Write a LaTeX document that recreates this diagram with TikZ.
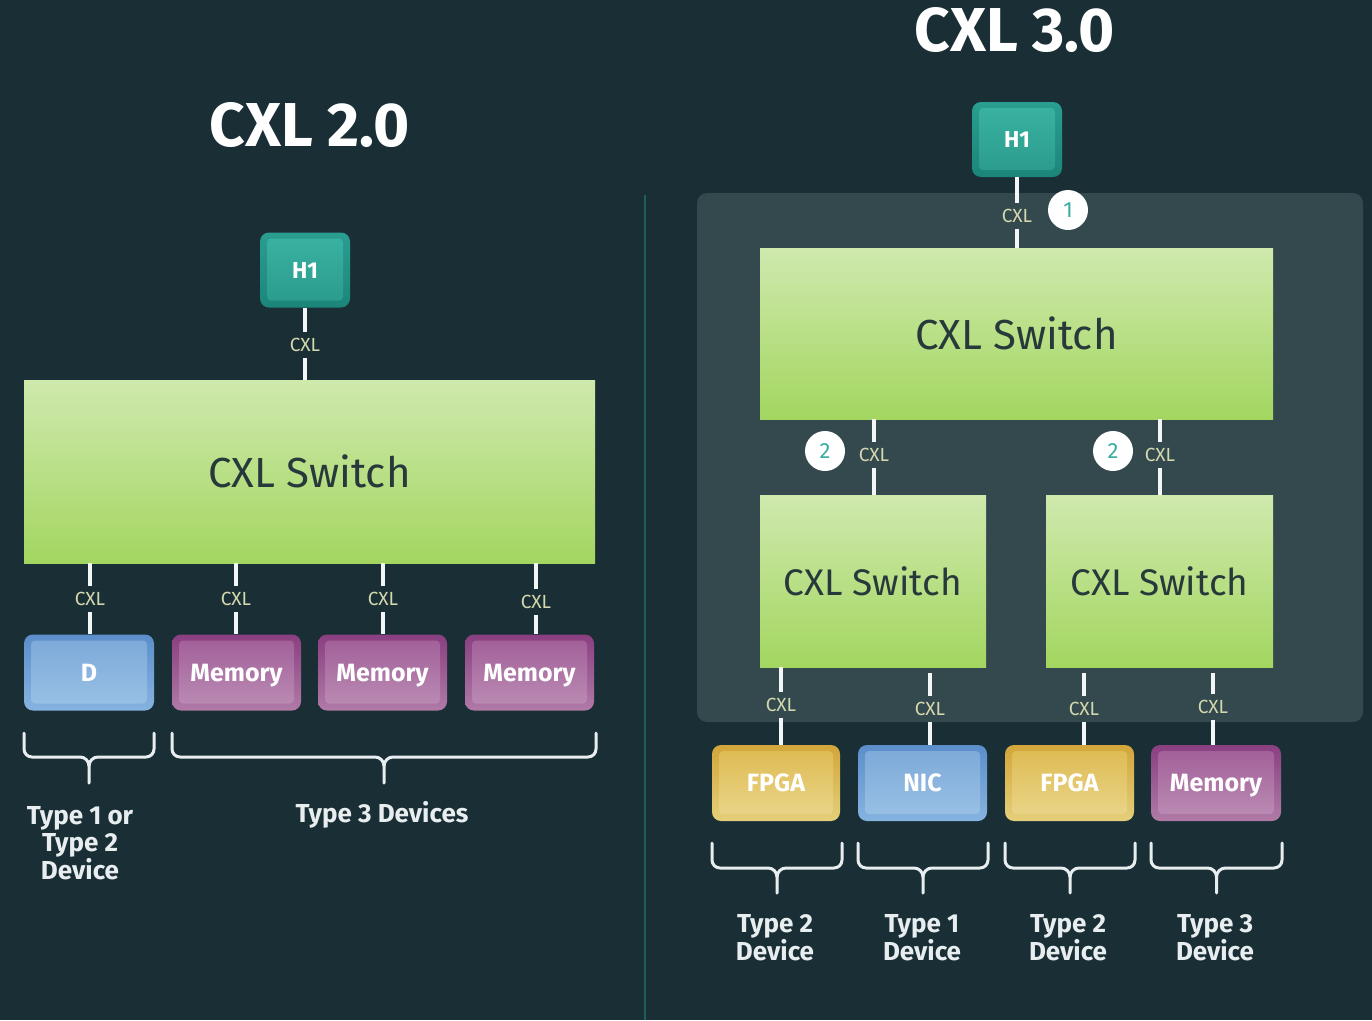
\documentclass[tikz,border=0pt]{standalone}
\usepackage{fontspec}
\setmainfont{Fira Sans}
\usetikzlibrary{calc}
\definecolor{bgc}{HTML}{1A2F35}
\definecolor{panelc}{HTML}{34494E}
\definecolor{divc}{HTML}{1E6059}
\definecolor{linec}{HTML}{F2F6F6}
\definecolor{cxlc}{HTML}{D4D8AE}
\definecolor{swtxt}{HTML}{28393B}
\definecolor{swtop}{HTML}{CFE9AD}
\definecolor{swbot}{HTML}{A3D660}
\definecolor{tealA}{HTML}{2A9E90}
\definecolor{tealB}{HTML}{1C857A}
\definecolor{tealI}{HTML}{3AB3A3}
\definecolor{tealJ}{HTML}{2A9A8C}
\definecolor{numc}{HTML}{3AADA0}
\definecolor{blueA}{HTML}{5B8ECB}
\definecolor{blueB}{HTML}{86B3E0}
\definecolor{blueI}{HTML}{7BA8D8}
\definecolor{blueJ}{HTML}{9BC2E6}
\definecolor{purA}{HTML}{8A3F80}
\definecolor{purB}{HTML}{B07AA7}
\definecolor{purI}{HTML}{A05D97}
\definecolor{purJ}{HTML}{BC8EB5}
\definecolor{yelA}{HTML}{D2A63A}
\definecolor{yelB}{HTML}{E4CF7A}
\definecolor{yelI}{HTML}{DDBA50}
\definecolor{yelJ}{HTML}{EAD68C}
\definecolor{brc}{HTML}{E8EEF0}
\newcommand\fTitle{\bfseries\fontsize{62}{62}\selectfont}
\newcommand\fSwitch{\fontsize{42}{42}\selectfont}
\newcommand\fSwitchS{\fontsize{37}{37}\selectfont}
\newcommand\fDevice{\bfseries\fontsize{25}{25}\selectfont}
\newcommand\fHost{\bfseries\fontsize{23}{23}\selectfont}
\newcommand\fCxl{\fontsize{19}{19}\selectfont}
\newcommand\fType{\bfseries\fontsize{26}{27.5}\selectfont}
\newcommand\fNum{\fontsize{22}{22}\selectfont}
\newcommand\devbrace[5]{%
  \pgfmathsetmacro\bmid{(#1+#2)/2}%
  \pgfmathsetmacro\bmL{\bmid-9}%
  \pgfmathsetmacro\bmR{\bmid+9}%
  \pgfmathsetmacro\byA{#4-8}%
  \pgfmathsetmacro\byB{#4+9}%
  \pgfmathsetmacro\bxA{#1+8}%
  \pgfmathsetmacro\bxB{#2-8}%
  \draw[bracel] (#1,#3) -- (#1,\byA) to[out=-90,in=180] (\bxA,#4)
    -- (\bmL,#4) to[out=0,in=90] (\bmid,\byB) -- (\bmid,#5);
  \draw[bracel] (#2,#3) -- (#2,\byA) to[out=-90,in=0] (\bxB,#4)
    -- (\bmR,#4) to[out=180,in=90] (\bmid,\byB);
}
\tikzset{
  title/.style={text=white, font=\fTitle, inner sep=0pt},
  switchbox/.style={top color=swtop, bottom color=swbot, text=swtxt, font=\fSwitch, inner sep=0pt},
  devbox/.style={rounded corners=9pt, minimum height=76pt, text=white, font=\fDevice, inner sep=0pt, text height=17.2pt, text depth=0pt},
  innerbox/.style 2 args={path picture={\shade[top color=#1, bottom color=#2, rounded corners=4pt]
      ([shift={(7pt,-6pt)}]path picture bounding box.north west) rectangle
      ([shift={(-7pt,7pt)}]path picture bounding box.south east);}},
  hostbox/.style={devbox, font=\fHost, text height=16pt, minimum width=90pt, minimum height=75pt, top color=tealA, bottom color=tealB, innerbox={tealI}{tealJ}},
  bluebox/.style={devbox, top color=blueA, bottom color=blueB, innerbox={blueI}{blueJ}},
  purbox/.style={devbox, top color=purA, bottom color=purB, innerbox={purI}{purJ}},
  yelbox/.style={devbox, top color=yelA, bottom color=yelB, innerbox={yelI}{yelJ}},
  cxl/.style={text=cxlc, font=\fCxl, inner xsep=2pt, inner ysep=6pt},
  conn/.style={draw=linec, line width=4pt},
  numcirc/.style={circle, fill=white, minimum size=40pt, inner sep=0pt, text=numc, font=\fNum},
  bracel/.style={draw=brc, line width=3pt, line cap=round, line join=round},
  typel/.style={text=brc, font=\fType, align=center, inner sep=0pt},
}
\begin{document}
\begin{tikzpicture}[x=1pt,y=-1pt]
\fill[bgc] (0,0) rectangle (1372,1020);
\useasboundingbox (0,0) rectangle (1372,1020);
% divider and panel
\draw[divc, line width=2pt] (645,195) -- (645,1020);
\fill[panelc, rounded corners=10pt] (697,193) rectangle (1363,722);

% ---------- CXL 2.0 ----------
\node[title] (t2) at (310,125) {CXL 2.0};
\node[hostbox] (h1a) at (305,270) {H1};
\node[switchbox, minimum width=571pt, minimum height=183pt] (swa) at (309.5,471.5) {CXL Switch};
\node[cxl] (ca0) at (305,345) {CXL};
\draw[conn] (ca0.north) -- (ca0.north |- h1a.south);
\draw[conn] (ca0.south) -- (ca0.south |- swa.north);

\node[bluebox, minimum width=130pt] (da1) at (89,672.5) {D};
\node[purbox, minimum width=129pt] (da2) at (236.5,672.5) {Memory};
\node[purbox, minimum width=129pt] (da3) at (382.5,672.5) {Memory};
\node[purbox, minimum width=129pt] (da4) at (529.5,672.5) {Memory};
\node[cxl] (ca1) at (90,599) {CXL};
\node[cxl] (ca2) at (236,599) {CXL};
\node[cxl] (ca3) at (383,599) {CXL};
\node[cxl] (ca4) at (536,602) {CXL};
\foreach \i in {1,2,3,4}{
  \draw[conn] (ca\i.north) -- (ca\i.north |- swa.south);
  \draw[conn] (ca\i.south) -- (ca\i.south |- da\i.north);
}
\devbrace{24}{154}{733}{757}{783}
\devbrace{172}{596}{733}{757}{783}
\node[typel] (la1) at (80,843) {Type 1 or\\Type 2\\Device};
\node[typel] (la2) at (382,815) {Type 3 Devices};

% ---------- CXL 3.0 ----------
\node[title] (t3) at (1015,30) {CXL 3.0};
\node[hostbox] (h1b) at (1017,139.5) {H1};
\node[switchbox, minimum width=513pt, minimum height=171pt] (swb) at (1016.5,333.5) {CXL Switch};
\node[switchbox, font=\fSwitchS, minimum width=226pt, minimum height=172pt] (swc) at (873,581) {CXL Switch};
\node[switchbox, font=\fSwitchS, minimum width=227pt, minimum height=172pt] (swd) at (1159.5,581) {CXL Switch};

\node[cxl] (cb0) at (1017,216) {CXL};
\draw[conn] (cb0.north) -- (cb0.north |- h1b.south);
\draw[conn] (cb0.south) -- (cb0.south |- swb.north);
\node[numcirc] (n1) at (1068,210) {1};

\node[cxl] (cb1) at (874,455) {CXL};
\node[cxl] (cb2) at (1160,455) {CXL};
\draw[conn] (cb1.north) -- (cb1.north |- swb.south);
\draw[conn] (cb1.south) -- (cb1.south |- swc.north);
\draw[conn] (cb2.north) -- (cb2.north |- swb.south);
\draw[conn] (cb2.south) -- (cb2.south |- swd.north);
\node[numcirc] (n2) at (825,451) {2};
\node[numcirc] (n3) at (1113,451) {2};

\node[yelbox, minimum width=128pt] (db1) at (776,783) {FPGA};
\node[bluebox, minimum width=129pt] (db2) at (922.5,783) {NIC};
\node[yelbox, minimum width=129pt] (db3) at (1069.5,783) {FPGA};
\node[purbox, minimum width=130pt] (db4) at (1216,783) {Memory};

\node[cxl] (cb3) at (781,705) {CXL};
\node[cxl] (cb4) at (930,709) {CXL};
\node[cxl] (cb5) at (1084,709) {CXL};
\node[cxl] (cb6) at (1213,707) {CXL};
\draw[conn] (cb3.north) -- (cb3.north |- swc.south);
\draw[conn] (cb4.north) -- ($(cb4.north |- swc.south)+(0,6)$);
\draw[conn] (cb5.north) -- ($(cb5.north |- swd.south)+(0,6)$);
\draw[conn] (cb6.north) -- ($(cb6.north |- swd.south)+(0,6)$);
\draw[conn] (cb3.south) -- (cb3.south |- db1.north);
\draw[conn] (cb4.south) -- (cb4.south |- db2.north);
\draw[conn] (cb5.south) -- (cb5.south |- db3.north);
\draw[conn] (cb6.south) -- (cb6.south |- db4.north);

\devbrace{712}{842}{843}{868}{893}
\devbrace{858}{988}{843}{868}{893}
\devbrace{1005}{1135}{843}{868}{893}
\devbrace{1151}{1282}{843}{868}{893}
\node[typel] (lb1) at (775,937.5) {Type 2\\Device};
\node[typel] (lb2) at (922,937.5) {Type 1\\Device};
\node[typel] (lb3) at (1068,937.5) {Type 2\\Device};
\node[typel] (lb4) at (1215,937.5) {Type 3\\Device};
\end{tikzpicture}
\end{document}
